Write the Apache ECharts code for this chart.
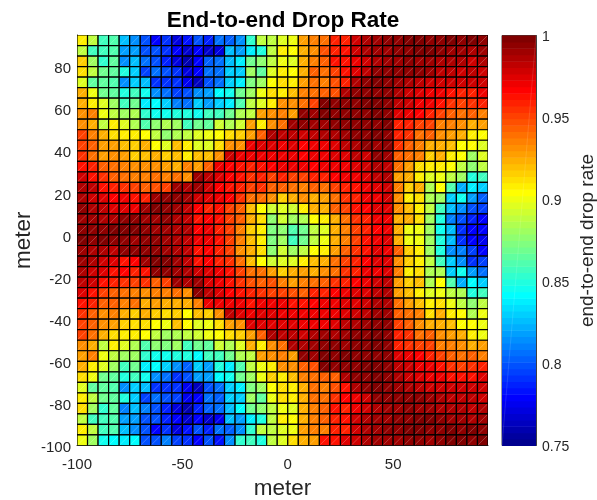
<!DOCTYPE html>
<html><head><meta charset="utf-8">
<style>html,body{margin:0;padding:0;background:#fff}#c{width:597px;height:500px}</style>
<script src="https://cdn.jsdelivr.net/npm/echarts@6/dist/echarts.min.js"></script>
</head><body><div id="c"></div>
<script>
// Drop rate in percent. First row is y = 90 (top), last row is y = -100; columns x = -100 .. 90.
const row00=[91,88.7,85.7,86.3,82.8,81.3,80,78,79,77,78.5,79.8,78.8,80.8,80.3,81.3,85.3,88.7,89,89.7,90,92.8,93.6,93.8,96,96,97.8,98.7,99.1,99.4,99.6,99.7,99.7,99.6,99.5,100,99.6,99.8,99.5];
const row01=[89,85.7,85.7,86,82,82,79.8,80,79,78,76.6,77.8,76.6,77,82.8,82,83.8,85,89,90.8,90.3,92.2,93.2,94.8,96,96.3,98,98.7,98.9,99.1,99.3,99.6,99.8,99.7,99.6,99.2,99.1,98.7,98.9];
const row02=[91.5,88,85.3,86.5,81.3,82.5,80.8,80,78.7,77.2,76,78,80.2,80.5,82.8,83.8,87,87.7,89,90,89.7,92.2,93.6,94.3,96.3,96.3,97.2,98,98.7,99,99.1,99.4,99.1,98.9,98.7,98.6,98.5,98,98.7];
const row03=[91.3,88.7,87,86.5,84.8,83.2,79.5,80.8,79.8,79.2,77.2,78,80.8,80.5,83,83,88,86.5,89.7,91,90.6,92.5,94.5,94,95,96.3,97.4,98.3,99.6,99.6,99.4,99.4,99.6,98.9,98.3,98.3,98,98.3,97.8];
const row04=[89.7,86.5,86.5,86.3,81.5,83,82.5,79.2,79.2,79.2,77.4,76.2,79.8,80.8,83,83.8,87.3,88,90.3,91.3,91,92.8,94,93.6,94.8,96,98.7,99.4,99.8,99.6,99.2,98.5,98.3,97.9,97.8,97.8,97.7,98,97.8];
const row05=[92.5,90,87,86.5,84.9,85.8,84.4,81.3,80.8,79.5,79.8,81.3,82,84.2,84.7,87,88,90,91.3,90.8,92,93.6,94,94.3,94.8,98.7,99.4,99.6,99.6,99.4,98.5,97.8,97.4,96.9,96.9,96.3,96,96,97.2];
const row06=[92.2,91,89.5,88,85.7,87,83.6,84,83.2,81,80.8,83,82,83.2,83.6,86.3,88.7,89.5,90.8,93,93,94,95,99.8,99.4,99.6,99.6,99.8,99.8,99.4,98.3,97.8,97,96.9,96.3,95.5,95.2,95.5,96];
const row07=[93,93.4,90,89,88,88.5,85.3,84.4,84.5,84.9,85.1,84.4,85.8,85.8,87,88.5,89,92.8,93,93.4,92.8,99.4,99.2,99.8,99.4,99.6,99.5,99.6,99.8,99.6,97.4,96.9,96.6,96,95,94.5,93.8,94.5,93.6];
const row08=[93,92.2,89,91,89.5,88.5,86,87.7,88.5,88,85.7,87,86.5,89.2,88.5,89.2,92.8,90.8,93.2,93.8,99,99.3,99.2,99.1,99.5,99.3,99.6,99.4,99.6,99.7,96,95.8,95,95,93.6,93.4,93,92.5,92.8];
const row09=[95,93.6,92.2,91.3,90.8,90.8,90.3,88.7,87.7,88.5,89,89.5,90,90.4,91.3,91.5,92.8,94.3,98.7,98.3,98.3,98,98.3,98.7,98.5,98.9,99.4,99.6,99.8,99.6,96,95.5,94,94.5,93,92.8,92.2,91,90.4];
const row10=[95.2,94.3,92.8,92.8,92,91.5,92.2,90.4,89.5,92,90.8,89.5,89.7,91.3,93,93.2,97.2,97.6,97.4,97.2,97.4,96.6,96.9,97.2,97.6,98.3,98.7,99.4,99.1,99.4,95.5,94.5,93.4,92.5,92.2,92,90.4,90.4,89.7];
const row11=[95.5,94,92.8,93.2,92.8,91.5,92,92.2,91.5,92,90.7,92,92,93.2,97.8,97.2,96.9,97,97.2,96.9,96.9,96.6,96.9,97,97.4,97.6,98.3,98,99.4,99.1,94.3,94,93.6,91.5,92.2,91,90.4,88.2,89.7];
const row12=[96.3,96,94.5,94,93.6,93.2,93,93.2,92.8,92.5,93.4,92.8,94.3,97.2,96.6,96.3,96,96.3,96.6,97,96.9,96.9,96.6,96.9,97,97.2,97.4,98,98.7,98.3,94,92.8,91.3,90.8,91,90.4,88.7,87.7,88.7];
const row13=[97.8,96.3,95.5,94.5,94,93.6,93.6,93.8,93.6,94,93.2,99.1,98.3,97.4,96.6,96.3,95.5,95.8,95.2,95.8,95.2,95,96,96,96.6,97,97.2,97.4,98.3,98.7,92.8,92.2,90.8,89.5,90,88.7,88.2,85.1,85.7];
const row14=[98.7,98.3,96.3,96,95.5,95.2,94.5,94.8,95,99.1,98.7,98.9,97.8,96.6,96.3,95.8,95.2,95.5,94.5,94.5,93.8,93.6,94.3,94,95.2,96,96.3,97,97.4,98,93.4,91.5,92.2,88.5,90.4,86,82.3,83.8,83];
const row15=[98.7,98,97.5,96.6,97.2,96.3,96,99.1,99.6,99.4,98.9,98,97.6,97.2,96.6,95.5,94,94,93.2,91.5,92.5,93.2,92.2,92.8,93.8,95.5,96,96.9,97,97.8,93.2,91,91.3,88.5,88,83,84.4,82,80.2];
const row16=[99.4,98.7,98.3,97.5,97.4,96.9,99.1,99.8,99.6,98.9,98.3,96.6,96,96.3,95.2,94.5,92,90.4,89.2,89.7,89.2,90.8,92.2,92.5,94.3,95,96.3,96.6,97.4,97.5,93.2,92,90.8,88.7,85.8,82.8,81.3,80,79.5];
const row17=[99.1,98.9,98.5,98.7,99.4,99.6,99.1,99.1,99.4,98.7,98.3,96.3,96.6,96.3,95.2,94.3,92.5,91.3,87.7,89.2,88,88.5,90.6,90.9,92.5,94,95.5,96,96.9,97.2,92.2,92.5,91.3,88,84.9,81,80,78.7,78];
const row18=[99.6,99.4,99.6,99.7,99.8,99.7,99.6,99.1,99.1,98.7,98.5,96.6,97.2,96,95.2,93.6,91.5,90.8,87.3,87.7,86.3,87,89,89.7,92.2,93.6,95,96,96.6,97.2,92.2,90,90,88.2,84.7,82.5,79,78,77.8];
const row19=[99.8,99.4,99.7,99.6,99.4,99.1,99.6,99.4,99.1,98.7,98.3,96.9,97.2,96.3,95,93.6,92,90.8,87.3,88,85.8,87,89,90,92.5,93.6,95,96.3,97.2,97.3,92.2,90,90,88.2,84.9,82.8,79.2,78,77.6];
const row20=[98.9,98.7,98.7,98.3,99.6,99.6,99.4,99.4,99.1,98.7,98.3,96.3,96.6,96,95,93.2,92.5,91.3,87.7,89.2,88,89,90.6,90.9,92.8,94.5,95.5,96.3,97.3,97.2,94.5,91.5,91,88,85.1,81.3,81,79.5,77.9];
const row21=[99.1,98.5,98,97.5,96.3,96.6,99.1,99.8,99.8,99.1,98.3,96.3,96.6,96,95.5,94,92,90.4,89.2,89.7,89.5,90.8,92.1,92.2,93.8,95.2,96,96.6,97.4,97.5,93,91.5,90.8,88.7,85.8,83,81.5,79,79.5];
const row22=[98.7,97.8,97.5,96.3,96.6,96,96.3,99.4,99.6,99.1,98.7,98,97.5,96.9,96.3,95.2,94,93.8,92.8,91.5,92.2,92.8,92.2,93,94,95.5,96,96.9,97.2,97.5,93.4,91,91.3,88.5,88.5,83.2,84.4,82,80.5];
const row23=[98.3,98,96.3,96,95.5,95.2,95.5,94.5,95,99.1,98.5,98.9,97.5,97,96.3,95.5,94.8,94.5,94.8,93.6,92.8,93.4,94,94.3,95.5,96,96.6,97,97.7,98.3,92.8,91.5,92,88.5,90.4,86,82.3,84.2,83];
const row24=[97.5,96.3,95.2,94.5,94,93.6,93.2,93.6,93.6,93.8,93.2,99.4,98.3,97.4,96.6,96.3,95.8,95.5,95.2,95,94.8,94.5,95.8,96,96.6,97,97.3,97.5,98.3,98.7,92.8,92,90.8,89.5,90,89,88.5,85.1,85.8];
const row25=[96.3,96,94.5,94.3,93.6,93.8,92.2,92.8,92.2,92.5,92.2,93.6,97,96.9,97.2,97,96.3,96.9,96.9,96.9,96.3,96.3,96.6,96.9,97,97.3,97.5,97.9,98.7,98.7,94,92.8,92,90.8,91.3,90,89,87.7,89];
const row26=[95.5,94.3,93,93.4,92.2,91.5,92.2,91.5,91.3,91.5,90.5,92,91.5,93,98.3,97.4,97,97.3,97.3,97,96.9,96.9,96.9,96.9,97.2,97.6,97.7,98.3,99.1,98.9,94.3,93.8,93.4,91.3,92.5,91,90.4,88.5,89.9];
const row27=[95.2,94.3,93.2,92.8,91.5,91.3,91.3,90.5,89.9,92,90.5,89.5,89.9,91.3,92.8,93.2,97.3,97.5,97.6,97.5,97.3,96.9,96.9,97,97.6,98.3,98.7,99.1,99.6,99.4,95.2,94.5,93.2,92.5,92.2,92,90.4,90.5,89.9];
const row28=[95,93.8,92.2,91.3,90.8,90.8,90.4,88.7,88,88.5,89,89.2,89.9,90.5,91.3,91.5,92.8,94.3,98.7,98.3,98.3,98,98.7,99.1,98.5,98.9,99.4,99.6,99.8,99.6,96,95.5,94,94.5,93,92.8,92.5,91,90.2];
const row29=[93,92.2,89,91,89.5,88.5,86,87.7,87.3,88,85.7,87,86.5,89.2,88.5,89.6,92.5,90.7,93.2,93.8,98.5,98.7,99.1,99.5,99.4,99.2,99.4,99.6,99.7,99.6,96,95.5,95,95.2,93.6,93.4,93,92.5,92.8];
const row30=[92.8,93.4,90,89,88,88.2,85.3,84.4,84.5,84.9,85.1,84.2,85.8,85.8,87,88.5,89,92.8,93,93.4,92.8,99.4,99.1,99.8,99.6,99.7,99.6,99.5,99.6,99.4,97.5,96.9,96.6,96,95,94.5,93.8,94.5,93.6];
const row31=[92.2,91,89.5,88,85.7,87,83.6,84,83.2,81.3,80.2,83,82,84.9,83.6,86.3,88.7,89.9,90.8,93.2,93,94.3,94.8,99.8,99.4,99.6,99.4,99.7,99.8,99.4,98.3,97.8,97,96.9,96.3,95.5,95,95.5,96];
const row32=[91.3,89.9,87,86.5,84.9,85.8,84.4,81.3,80.8,79.2,79.8,81.8,82,84.2,84.7,87,88,89.9,91.5,90.8,92,93.6,94,94.3,94.5,98.7,99.4,99.6,99.7,99.4,98.5,97.8,97.4,96.9,97,96.3,96.3,96.3,97.3];
const row33=[89.7,86.5,86.5,86.3,81.5,83,82.5,79.2,79.2,79.2,77.4,76.2,80,80.8,83,83.8,87.3,88,90.3,91.3,90.8,92.5,94,93.6,94.8,96.3,98.7,99.4,99.8,99.6,99.2,98.5,98.3,97.9,97.8,97.7,97.8,98,97.8];
const row34=[91,88.7,87,86.5,84.8,83.2,79.5,80.8,79.8,79.5,77.4,78,80.8,80.2,83,83,88,86.5,89.9,91.3,91,92.5,94,94,95.5,96.6,97,98,99.6,99.6,99.4,99.4,99.6,98.9,98.7,98.3,98.3,98.3,97.9];
const row35=[91.4,88,85.3,86.5,81,82.5,81,80,78.7,77.2,76,78.7,80.2,80.8,82.8,84.2,87,87.7,89,90,89.7,92.2,93.6,94.5,96.3,96,97,98,98.7,99.1,99.1,99.6,99.1,98.9,98.7,98.7,98.6,98.3,98.6];
const row36=[89,85.8,85.7,86,82,82,79.8,80,78.7,78,76.6,77.8,76.6,77.5,82.8,82,83.8,85,89,90.8,90.3,92.2,93.4,94.5,96,96.3,97.8,98.7,98.9,99.1,99.3,99.6,99.8,99.7,99.5,99.2,99.1,98.7,98.9];
const row37=[91,88.7,85.7,86.3,82.8,81.3,80,78,79,77,78.5,79.8,78.8,80.8,80.3,81.3,85.3,88.7,89,89.7,89.9,92.8,93.6,93.6,96,96,97.7,98.7,99.1,99.4,99.6,99.7,99.7,99.6,99.5,99.8,99.6,99.8,99.5];
const row38=[90,88,84.4,84.2,83.8,84.2,80,79.8,81,79.5,79.2,78,80,78.5,81.3,85.3,85.8,84.9,89,89.7,91.3,92.2,92.8,96.3,96.3,97.6,98,98.5,98.9,99.1,99.2,99.6,99.4,99.2,99.4,99.8,99.8,99.6,99.7];
const rows=[row00,row01,row02,row03,row04,row05,row06,row07,row08,row09,row10,row11,row12,row13,row14,row15,row16,row17,row18,row19,row20,row21,row22,row23,row24,row25,row26,row27,row28,row29,row30,row31,row32,row33,row34,row35,row36,row37,row38];

const xTicks=[-100,-50,0,50];
const yTicks=[-100,-80,-60,-40,-20,0,20,40,60,80];
const barTicks=[0.75,0.8,0.85,0.9,0.95,1];
const cellStep=5, xStart=-100, yTop=90;
const cMin=0.75, cMax=1, levels=64;

function jetLevel(i){ // MATLAB jet(64)
  const t=(i+1)/levels;
  const f=o=>Math.max(0,Math.min(1,1.5-Math.abs(4*t-o)));
  return 'rgb('+Math.round(255*f(3))+','+Math.round(255*f(2))+','+Math.round(255*f(1))+')';
}
const jet=[];for(let i=0;i<levels;i++)jet.push(jetLevel(i));
const colorOf=v=>jet[Math.max(0,Math.min(levels-1,Math.floor((v-cMin)/(cMax-cMin)*levels)))];

const cells=[];
rows.forEach((r,j)=>r.forEach((p,i)=>cells.push([xStart+i*cellStep,yTop-j*cellStep,p/100])));
const barCells=[];
for(let i=0;i<levels;i++)barCells.push([cMin+i*(cMax-cMin)/levels,cMin+(i+1)*(cMax-cMin)/levels,jet[i]]);

const font='"Liberation Sans",Arial,sans-serif', ink='#262626';
const chart=echarts.init(document.getElementById('c'),null,{renderer:'canvas'});
chart.setOption({
  animation:false,backgroundColor:'#fff',
  title:{text:'End-to-end Drop Rate',left:278,top:4,textAlign:'center',
    textStyle:{fontFamily:font,fontWeight:'bold',fontSize:22.5,color:'#000'}},
  grid:[
    {left:77,top:35,width:411,height:410.5,containLabel:false,outerBoundsMode:'none'},
    {left:502,top:35.5,width:34,height:410,show:true,borderColor:'#404040',borderWidth:1,backgroundColor:'transparent',outerBoundsMode:'none'}
  ],
  xAxis:[
    {type:'value',gridIndex:0,min:-100,max:95,interval:50,name:'meter',nameLocation:'middle',nameGap:32,nameMoveOverlap:false,
     nameTextStyle:{fontFamily:font,fontSize:22.5,color:ink},
     axisLine:{show:true,onZero:false,lineStyle:{color:ink}},
     axisTick:{show:true,inside:true,length:4,lineStyle:{color:ink},customValues:xTicks},
     axisLabel:{fontFamily:font,fontSize:15,color:ink,margin:12,customValues:xTicks,formatter:v=>String(v)},
     splitLine:{show:false}},
    {type:'value',gridIndex:1,min:0,max:1,show:false,axisLine:{onZero:false}}
  ],
  yAxis:[
    {type:'value',gridIndex:0,min:-100,max:95,interval:20,name:'meter',nameLocation:'middle',nameGap:42,nameMoveOverlap:false,
     nameTextStyle:{fontFamily:font,fontSize:22.5,color:ink},
     axisLine:{show:true,onZero:false,lineStyle:{color:ink}},
     axisTick:{show:true,inside:true,length:4,lineStyle:{color:ink},customValues:yTicks},
     axisLabel:{margin:6,customValues:yTicks,formatter:v=>'{t|'+v+'}',
       rich:{t:{fontFamily:font,fontSize:15,color:ink,padding:[5,0,0,0]}}},
     splitLine:{show:false}},
    {type:'value',gridIndex:1,min:cMin,max:cMax,interval:0.05,position:'right',
     name:'end-to-end drop rate',nameLocation:'middle',nameGap:42,nameRotate:90,nameMoveOverlap:false,
     nameTextStyle:{fontFamily:font,fontSize:19,color:ink},
     axisLine:{show:true,onZero:false,lineStyle:{color:'#404040'}},
     axisTick:{show:true,inside:true,length:4,lineStyle:{color:'#404040'},customValues:barTicks},
     axisLabel:{margin:6,customValues:barTicks,formatter:v=>'{t|'+(+v.toFixed(2))+'}',
       rich:{t:{fontFamily:font,fontSize:14,color:ink,padding:[3,0,0,0]}}},
     splitLine:{show:false}}
  ],
  series:[
    {type:'custom',xAxisIndex:0,yAxisIndex:0,data:cells,clip:true,silent:true,
     encode:{x:0,y:1},
     renderItem:(p,api)=>{
       const x=api.value(0),y=api.value(1),v=api.value(2);
       const a=api.coord([x,y]),b=api.coord([x+cellStep,y+cellStep]);
       return {type:'group',children:[
         {type:'rect',shape:{x:a[0],y:b[1],width:b[0]-a[0],height:a[1]-b[1]},
          style:{fill:colorOf(v),stroke:'#000',lineWidth:1.2}},
         {type:'line',shape:{x1:a[0]+1,y1:a[1]-1,x2:b[0]-1,y2:b[1]+1},
          style:{stroke:'rgba(255,255,255,0.3)',lineWidth:0.8}}
       ]};
     }},
    {type:'custom',xAxisIndex:1,yAxisIndex:1,data:barCells,silent:true,
     encode:{y:[0,1]},
     renderItem:(p,api)=>{
       const a=api.coord([0,api.value(0)]),b=api.coord([1,api.value(1)]);
       return {type:'rect',shape:{x:a[0],y:b[1],width:b[0]-a[0],height:a[1]-b[1]+0.5},
         style:{fill:barCells[p.dataIndex][2]}};
     }},
    {type:'custom',xAxisIndex:1,yAxisIndex:1,data:[[0,cMin,1,cMax]],silent:true,
     encode:{y:[1,3]},
     renderItem:(p,api)=>{
       const a=api.coord([api.value(0),api.value(1)]),b=api.coord([api.value(2),api.value(3)]);
       return {type:'line',shape:{x1:a[0],y1:a[1],x2:b[0],y2:b[1]},
         style:{stroke:'rgba(255,255,255,0.12)',lineWidth:1}};
     }}
  ]
});
</script></body></html>
